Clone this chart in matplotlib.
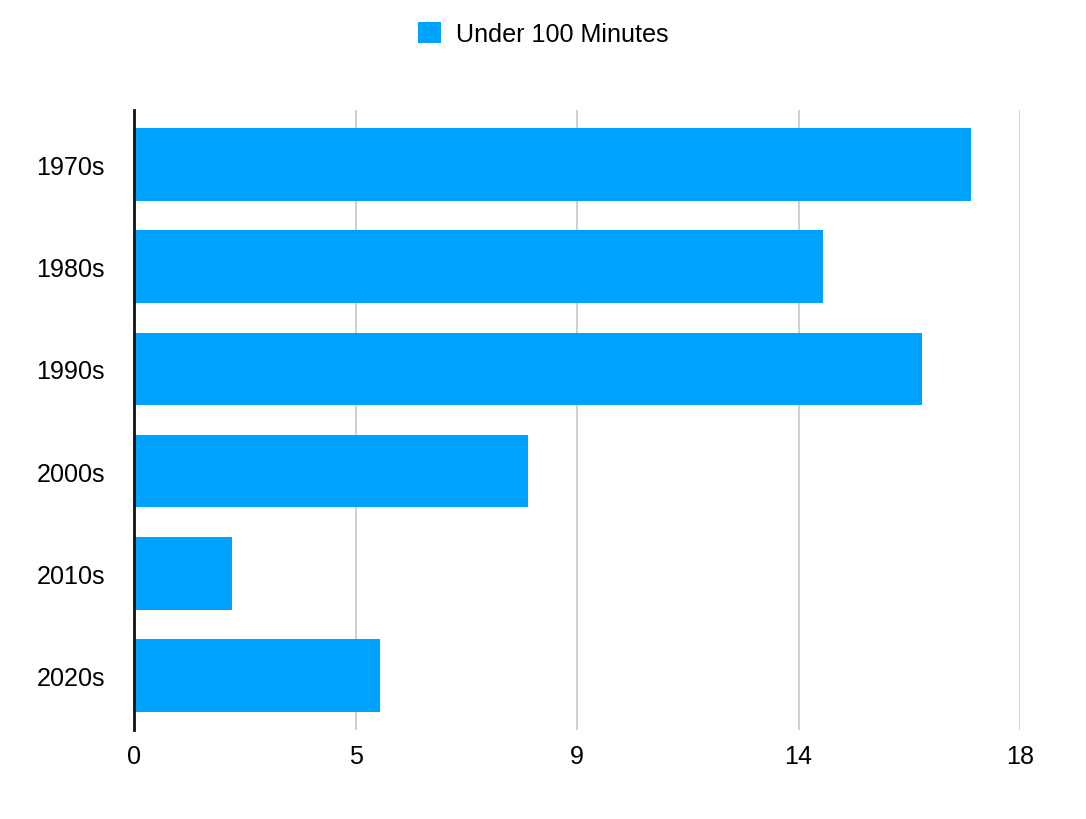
import matplotlib
matplotlib.use("Agg")
import matplotlib.pyplot as plt
from matplotlib.patches import Patch

decades = ["1970s", "1980s", "1990s", "2000s", "2010s", "2020s"]
under_100_minutes = [17, 14, 16, 8, 2, 5]
x_ticks = [0, 4.5, 9, 13.5, 18]
x_tick_labels = ["0", "5", "9", "14", "18"]
series_name = "Under 100 Minutes"

plt.rcParams["font.family"] = ["Liberation Sans", "DejaVu Sans"]
bar_color = "#00A2FF"
font_size = 18.1

fig = plt.figure(figsize=(10.86, 8.2), dpi=100)
ax = fig.add_axes([134 / 1086, 1 - 731 / 820, (1020 - 134) / 1086, (731 - 111) / 820])

ypos = list(range(len(decades)))
ax.barh(ypos, under_100_minutes, height=0.71, color=bar_color, zorder=2)

ax.set_xlim(0, 18)
ax.set_ylim(len(decades) - 0.47, -0.53)
ax.set_yticks(ypos)
ax.set_yticklabels(decades, fontsize=font_size)
ax.set_xticks(x_ticks)
ax.set_xticklabels(x_tick_labels, fontsize=font_size)

ax.grid(axis="x", color="#c4c4c4", linewidth=1.1, zorder=0)
ax.grid(axis="y", visible=False)
for side in ["top", "right", "bottom"]:
    ax.spines[side].set_visible(False)
ax.spines["left"].set_color("#111111")
ax.spines["left"].set_linewidth(2)
ax.spines["left"].set_zorder(3)
ax.tick_params(axis="y", length=0, pad=21)
ax.tick_params(axis="x", length=0, pad=10)

handle = Patch(facecolor=bar_color, edgecolor="none", label=series_name)
fig.legend(handles=[handle], loc="center", bbox_to_anchor=(0.5, 1 - 35 / 820),
           frameon=False, fontsize=font_size, handlelength=0.92, handleheight=0.92,
           handletextpad=0.6)

fig.savefig("out.png", dpi=100, facecolor="white")
